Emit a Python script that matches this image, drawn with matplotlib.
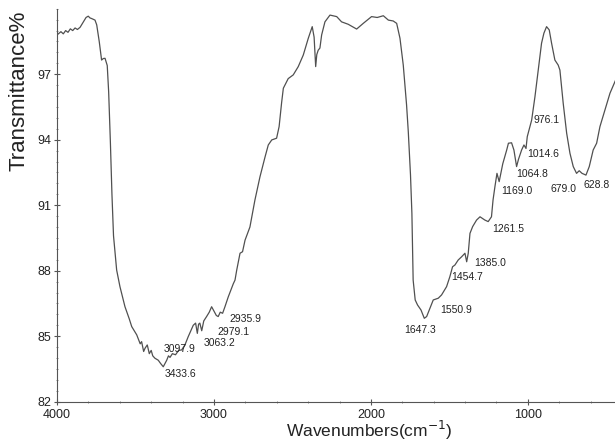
import numpy as np
import matplotlib
matplotlib.use('Agg')
import matplotlib.pyplot as plt
from matplotlib.ticker import MultipleLocator

plt.rcParams['font.family'] = ['Liberation Sans', 'DejaVu Sans']

# IR spectrum (wavenumber cm-1, transmittance %)
wavenumber = [4000, 3975, 3960, 3945, 3930, 3915, 3900, 3885, 3870, 3853,
              3832, 3815, 3801, 3790, 3779, 3758, 3747, 3731, 3716, 3705,
              3694, 3680, 3671, 3660, 3650, 3640, 3620, 3599, 3567, 3540,
              3524, 3492, 3470, 3461, 3448, 3439, 3425, 3412, 3400, 3390,
              3376, 3355, 3340, 3323, 3301, 3290, 3280, 3265, 3245, 3225,
              3206, 3185, 3164, 3132, 3117, 3106, 3098, 3090, 3078, 3065,
              3047, 3030, 3015, 3000, 2985, 2973, 2960, 2945, 2930, 2909,
              2877, 2866, 2855, 2834, 2818, 2802, 2771, 2739, 2707, 2675,
              2654, 2632, 2601, 2585, 2569, 2558, 2527, 2495, 2463, 2431,
              2399, 2374, 2362, 2352, 2345, 2336, 2325, 2314, 2293, 2261,
              2218, 2187, 2145, 2091, 2049, 1996, 1960, 1921, 1889, 1858,
              1836, 1815, 1794, 1773, 1762, 1748, 1739, 1735, 1731, 1718,
              1703, 1681, 1660, 1645, 1624, 1603, 1571, 1550, 1518, 1497,
              1480, 1465, 1444, 1422, 1401, 1390, 1380, 1369, 1352, 1327,
              1305, 1274, 1253, 1232, 1222, 1210, 1197, 1183, 1160, 1135,
              1124, 1104, 1089, 1072, 1060, 1040, 1025, 1012, 1004, 976,
              955, 934, 913, 898, 881, 864, 849, 828, 807, 796,
              775, 753, 732, 711, 690, 673, 655, 630, 609, 584,
              562, 541, 509, 477, 440]
transmittance = [98.80, 98.95, 98.85, 99.00, 98.92, 99.08, 99.00, 99.12, 99.05, 99.15,
                 99.40, 99.60, 99.66, 99.58, 99.55, 99.48, 99.26, 98.50, 97.65, 97.72,
                 97.73, 97.40, 96.20, 93.90, 91.50, 89.60, 88.03, 87.27, 86.35, 85.80,
                 85.44, 85.06, 84.65, 84.75, 84.30, 84.45, 84.60, 84.20, 84.35, 84.10,
                 83.99, 83.90, 83.75, 83.60, 83.90, 84.10, 84.03, 84.20, 84.15, 84.35,
                 84.37, 84.60, 84.98, 85.50, 85.60, 85.13, 85.55, 85.60, 85.25, 85.70,
                 85.90, 86.10, 86.35, 86.15, 85.95, 85.90, 86.10, 86.05, 86.35, 86.80,
                 87.40, 87.57, 88.03, 88.80, 88.87, 89.40, 90.00, 91.24, 92.30, 93.20,
                 93.76, 93.99, 94.07, 94.60, 95.70, 96.36, 96.80, 96.97, 97.35, 97.88,
                 98.65, 99.18, 98.70, 97.35, 97.90, 98.10, 98.20, 98.80, 99.40, 99.71,
                 99.64, 99.40, 99.29, 99.07, 99.33, 99.64, 99.60, 99.68, 99.48, 99.44,
                 99.33, 98.65, 97.42, 95.60, 94.37, 92.40, 90.63, 89.10, 87.57, 86.66,
                 86.43, 86.20, 85.82, 85.90, 86.28, 86.66, 86.74, 86.89, 87.27, 87.73,
                 88.18, 88.26, 88.49, 88.64, 88.80, 88.41, 88.80, 89.71, 90.02, 90.32,
                 90.47, 90.32, 90.25, 90.47, 91.24, 91.85, 92.46, 92.08, 92.90, 93.53,
                 93.84, 93.86, 93.53, 92.77, 93.10, 93.53, 93.76, 93.60, 94.14, 94.90,
                 95.97, 97.19, 98.42, 98.88, 99.18, 99.03, 98.42, 97.65, 97.42, 97.19,
                 95.67, 94.30, 93.38, 92.77, 92.46, 92.58, 92.46, 92.38, 92.77, 93.53,
                 93.84, 94.60, 95.36, 96.13, 96.75]

peak_labels = ['3433.6', '3097.9', '3063.2', '2979.1', '2935.9', '1647.3',
               '1550.9', '1454.7', '1385.0', '1261.5', '1169.0', '1064.8',
               '1014.6', '976.1', '679.0', '628.8']
# where each label text sits (centre, data coords)
label_x = [3216, 3216, 2962, 2877, 2802, 1688, 1454, 1390, 1242, 1125,
           1072, 976, 902, 881, 775, 562]
label_y = [83.27, 84.40, 84.67, 85.20, 85.77, 85.28, 86.20, 87.73, 88.37, 89.90,
           91.65, 92.43, 93.33, 94.90, 91.73, 91.93]

fig = plt.figure(figsize=(6.15, 4.42), dpi=100, facecolor='white')
ax = fig.add_axes([0.0927, 0.0912, 0.9073, 0.889])

ax.plot(wavenumber, transmittance, color='#505050', linewidth=0.9)

for txt, x, y in zip(peak_labels, label_x, label_y):
    ax.text(x, y, txt, fontsize=7.5, color='#222222', ha='center', va='center')

ax.set_xlim(4000, 445)
ax.set_ylim(82, 100)
ax.set_xticks([4000, 3000, 2000, 1000])
ax.set_yticks([82, 85, 88, 91, 94, 97])
ax.xaxis.set_minor_locator(MultipleLocator(200))
ax.yaxis.set_minor_locator(MultipleLocator(0.5))

for s in ['top', 'right']:
    ax.spines[s].set_visible(False)
for s in ['left', 'bottom']:
    ax.spines[s].set_color('#555555')
    ax.spines[s].set_linewidth(0.8)

ax.tick_params(which='major', direction='inout', length=4, width=0.8,
               colors='#555555', labelcolor='#222222', labelsize=9)
ax.tick_params(which='minor', direction='inout', length=2, width=0.6,
               colors='#777777')
ax.tick_params(axis='x', pad=3)
ax.tick_params(axis='y', pad=2)

ax.set_ylabel('Transmittance%', fontsize=16, color='#222222')
ax.yaxis.set_label_coords(-0.05, 0.79)
ax.set_xlabel('Wavenumbers(cm$^{-1}$)', fontsize=12.5, color='#222222')
ax.xaxis.set_label_coords(0.56, -0.045)

plt.savefig('out.png', dpi=100)
